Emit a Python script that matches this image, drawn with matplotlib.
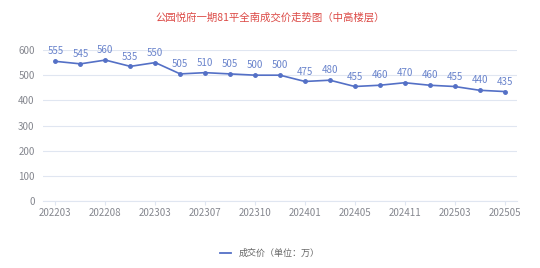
import matplotlib.pyplot as plt
from matplotlib.lines import Line2D

plt.rcParams['font.family'] = ['Noto Sans CJK SC', 'DejaVu Sans']

months = ['202203', '202205', '202208', '202212', '202303', '202305', '202307',
          '202308', '202310', '202312', '202401', '202403', '202405', '202408',
          '202411', '202501', '202503', '202504', '202505']
prices = [555, 545, 560, 535, 550, 505, 510, 505, 500, 500, 475, 480,
          455, 460, 470, 460, 455, 440, 435]
y_ticks = [0, 100, 200, 300, 400, 500, 600]

title = '公园悦府一期81平全南成交价走势图（中高楼层）'
series_name = '成交价（单位：万）'

line_color = '#5470c6'
value_color = '#6a84cc'
label_color = '#85878f'
grid_color = '#e0e6f1'

fig = plt.figure(figsize=(5.4, 2.68), dpi=100)
ax = fig.add_axes([0.0796, 0.25, 0.8778, 0.5634])

x = list(range(len(months)))
ax.plot(x, prices, color=line_color, linewidth=1.2, marker='o', markersize=2.5)
for xi, v in zip(x, prices):
    ax.annotate(str(v), (xi, v), xytext=(0, 3.5), textcoords='offset points',
                ha='center', va='bottom', fontsize=7, color=value_color)

ax.set_xlim(-0.5, len(months) - 0.5)
ax.set_ylim(0, 600)
ax.set_yticks(y_ticks)
ax.set_xticks(x[::2])
ax.set_xticklabels(months[::2])
ax.tick_params(axis='y', length=0, labelsize=7, labelcolor=label_color, pad=6)
ax.tick_params(axis='x', length=3, color=grid_color, labelsize=7,
               labelcolor=label_color, pad=2)
ax.grid(axis='y', color=grid_color, linewidth=0.8)
ax.set_axisbelow(True)
for side in ['top', 'right', 'left']:
    ax.spines[side].set_visible(False)
ax.spines['bottom'].set_color(grid_color)

fig.text(0.5, 0.933, title, ha='center', va='center', fontsize=7.5,
         color='#dc4a46', fontweight='medium')

handle = Line2D([], [], color=line_color, linewidth=1.3)
fig.legend([handle], [series_name], loc='center', bbox_to_anchor=(0.5, 0.055),
           frameon=False, fontsize=6.5, handlelength=1.2, labelcolor='#666666')

fig.savefig('out.png', dpi=100)
